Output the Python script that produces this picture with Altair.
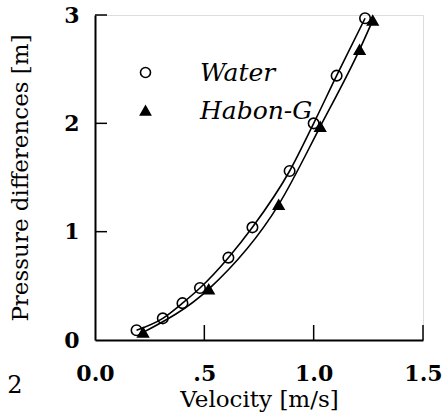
import altair as alt
import pandas as pd

water_v = [0.19, 0.31, 0.40, 0.48, 0.61, 0.72, 0.89, 1.00, 1.105, 1.235]
water_p = [0.09, 0.20, 0.34, 0.48, 0.76, 1.04, 1.56, 2.00, 2.44, 2.97]
habon_v = [0.22, 0.52, 0.84, 1.03, 1.21, 1.27]
habon_p = [0.07, 0.47, 1.25, 1.97, 2.68, 2.95]
series_names = ["Water", "Habon-G"]
x_ticks = [0.0, 0.5, 1.0, 1.5]
y_ticks = [0, 1, 2, 3]

df = pd.DataFrame(
    {"v": water_v + habon_v,
     "p": water_p + habon_p,
     "s": [series_names[0]] * len(water_v) + [series_names[1]] * len(habon_v)}
)

SERIF = "DejaVu Serif"
W, H = 328, 325

xscale = alt.Scale(domain=[0, 1.5], nice=False)
yscale = alt.Scale(domain=[0, 3], nice=False)

x_enc = alt.X("v:Q", scale=xscale, title="Velocity [m/s]",
              axis=alt.Axis(values=x_ticks, grid=False, ticks=False,
                            domainColor="black", domainWidth=2,
                            labelExpr="datum.value == 0.5 ? '.5' : format(datum.value, '.1f')",
                            labelFont=SERIF, labelFontSize=22, labelFontWeight="bold",
                            labelColor="black", labelPadding=23, labelFlush=False,
                            titleFont=SERIF, titleFontSize=23, titleFontWeight="normal",
                            titleColor="black", titlePadding=4))
y_enc = alt.Y("p:Q", scale=yscale, title="Pressure differences [m]",
              axis=alt.Axis(values=y_ticks, grid=False, ticks=False, format="d",
                            domainColor="black", domainWidth=2,
                            labelFont=SERIF, labelFontSize=22, labelFontWeight="bold",
                            labelColor="black", labelPadding=16, labelFlush=False,
                            titleFont=SERIF, titleFontSize=23, titleFontWeight="normal",
                            titleColor="black", titlePadding=31))

lines = alt.Chart(df).mark_line(color="black", strokeWidth=1.6, interpolate="monotone").encode(
    x=x_enc, y=y_enc, detail="s:N"
)

leg = alt.Legend(title=None, orient="none", legendX=38, legendY=45,
                 labelFont=SERIF, labelFontSize=25, labelFontStyle="italic",
                 labelColor="black", labelOffset=42, rowPadding=12,
                 symbolSize=100, symbolStrokeWidth=1.6)

points = alt.Chart(df).mark_point(size=110, strokeWidth=1.6, opacity=1).encode(
    x=alt.X("v:Q", scale=xscale),
    y=alt.Y("p:Q", scale=yscale),
    shape=alt.Shape("s:N", scale=alt.Scale(domain=series_names, range=["circle", "triangle-up"]),
                    legend=leg),
    fill=alt.Fill("s:N", scale=alt.Scale(domain=series_names, range=["transparent", "black"]),
                  legend=leg),
    stroke=alt.Stroke("s:N", scale=alt.Scale(domain=series_names, range=["black", "black"]),
                      legend=leg),
)

ytick_df = pd.DataFrame({"t": y_ticks[1:]})
xtick_df = pd.DataFrame({"t": x_ticks[1:]})

yticks = alt.Chart(ytick_df).mark_rule(color="black", strokeWidth=1.5).encode(
    y=alt.Y("t:Q", scale=yscale), x=alt.value(0), x2=alt.value(12)
)
xticks = alt.Chart(xtick_df).mark_rule(color="black", strokeWidth=1.5).encode(
    x=alt.X("t:Q", scale=xscale), y=alt.value(H), y2=alt.value(H - 15)
)

stray = alt.Chart(pd.DataFrame({"t": ["2"]})).mark_text(
    font=SERIF, fontSize=24, color="black", align="center", baseline="alphabetic"
).encode(text="t:N", x=alt.value(-80), y=alt.value(H + 53))

chart = alt.layer(lines, points, yticks, xticks, stray).properties(
    width=W, height=H,
    autosize=alt.AutoSizeParams(type="none"),
    padding={"left": 95, "top": 15, "right": 19, "bottom": 79},
).configure_view(stroke=None).configure(background="white", font=SERIF)

chart.save("out.html", embed_options={"renderer": "svg", "actions": False})
